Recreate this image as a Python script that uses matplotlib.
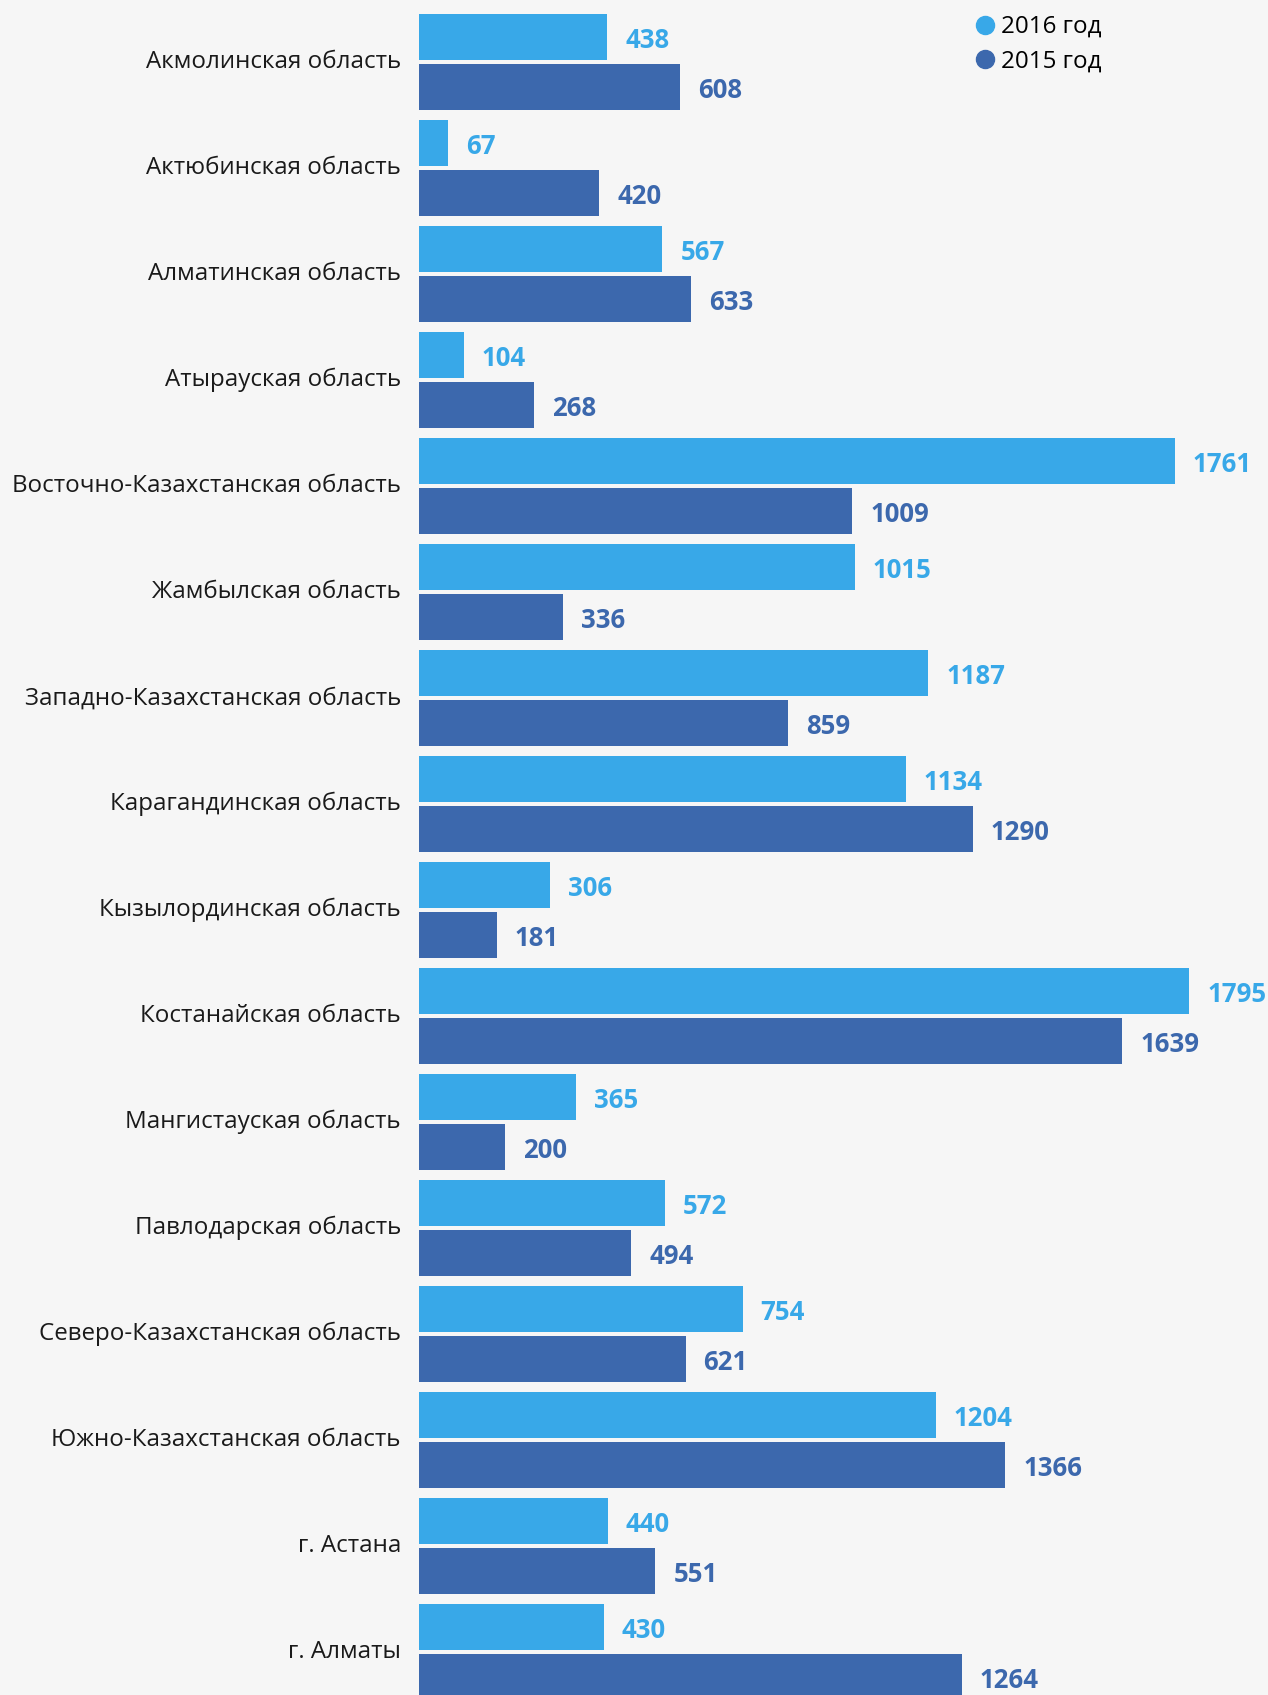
import numpy as np
import matplotlib
matplotlib.use('Agg')
import matplotlib.pyplot as plt
import matplotlib.transforms as mtransforms
from matplotlib.lines import Line2D

# данные
regions = ['Акмолинская область', 'Актюбинская область', 'Алматинская область',
           'Атырауская область', 'Восточно-Казахстанская область', 'Жамбылская область',
           'Западно-Казахстанская область', 'Карагандинская область', 'Кызылординская область',
           'Костанайская область', 'Мангистауская область', 'Павлодарская область',
           'Северо-Казахстанская область', 'Южно-Казахстанская область', 'г. Астана', 'г. Алматы']
y2016 = [438, 67, 567, 104, 1761, 1015, 1187, 1134, 306, 1795, 365, 572, 754, 1204, 440, 430]
y2015 = [608, 420, 633, 268, 1009, 336, 859, 1290, 181, 1639, 200, 494, 621, 1366, 551, 1264]

c16 = '#38a8e8'
c15 = '#3c68ad'
bg = '#f6f6f6'

plt.rcParams['font.family'] = ['Open Sans', 'DejaVu Sans']

W, H = 1268, 1695
fig = plt.figure(figsize=(W/100, H/100), dpi=100, facecolor=bg)
x0 = 419
ax = fig.add_axes([x0/W, 0, 1 - x0/W, 1])
ax.set_facecolor(bg)

pos = np.arange(len(regions))
off = 25/106
h = 46/106
ax.barh(pos - off, y2016, height=h, color=c16)
ax.barh(pos + off, y2015, height=h, color=c15)

ax.set_xlim(0, (W - x0)/0.4292)
ax.set_ylim((H - 62)/106, -62/106)

# подписи значений
for i in range(len(regions)):
    ax.annotate(str(y2016[i]), (y2016[i], pos[i] - off), xytext=(13, -2.5),
                textcoords='offset points', va='center', ha='left',
                color=c16, fontsize=18.5, fontweight='bold')
    ax.annotate(str(y2015[i]), (y2015[i], pos[i] + off), xytext=(13, -2.5),
                textcoords='offset points', va='center', ha='left',
                color=c15, fontsize=18.5, fontweight='bold')

ax.set_yticks(pos)
ax.set_yticklabels(regions, fontsize=17.4, color='#1a1a1a')
ax.tick_params(axis='y', length=0, pad=13)
up = mtransforms.ScaledTranslation(0, 2/72, fig.dpi_scale_trans)
for lab in ax.get_yticklabels():
    lab.set_transform(lab.get_transform() + up)
ax.set_xticks([])
for s in ax.spines.values():
    s.set_visible(False)

handles = [Line2D([], [], marker='o', ls='', color=c16, markersize=13, label='2016 год'),
           Line2D([], [], marker='o', ls='', color=c15, markersize=13, label='2015 год')]
fig.legend(handles=handles, loc='upper left', bbox_to_anchor=(970/W, 1 - 15/H),
           frameon=False, fontsize=17.4, handletextpad=0.1, labelspacing=0.45,
           borderaxespad=0, borderpad=0, handlelength=1.2)

fig.savefig('out.png', dpi=100, facecolor=bg)
